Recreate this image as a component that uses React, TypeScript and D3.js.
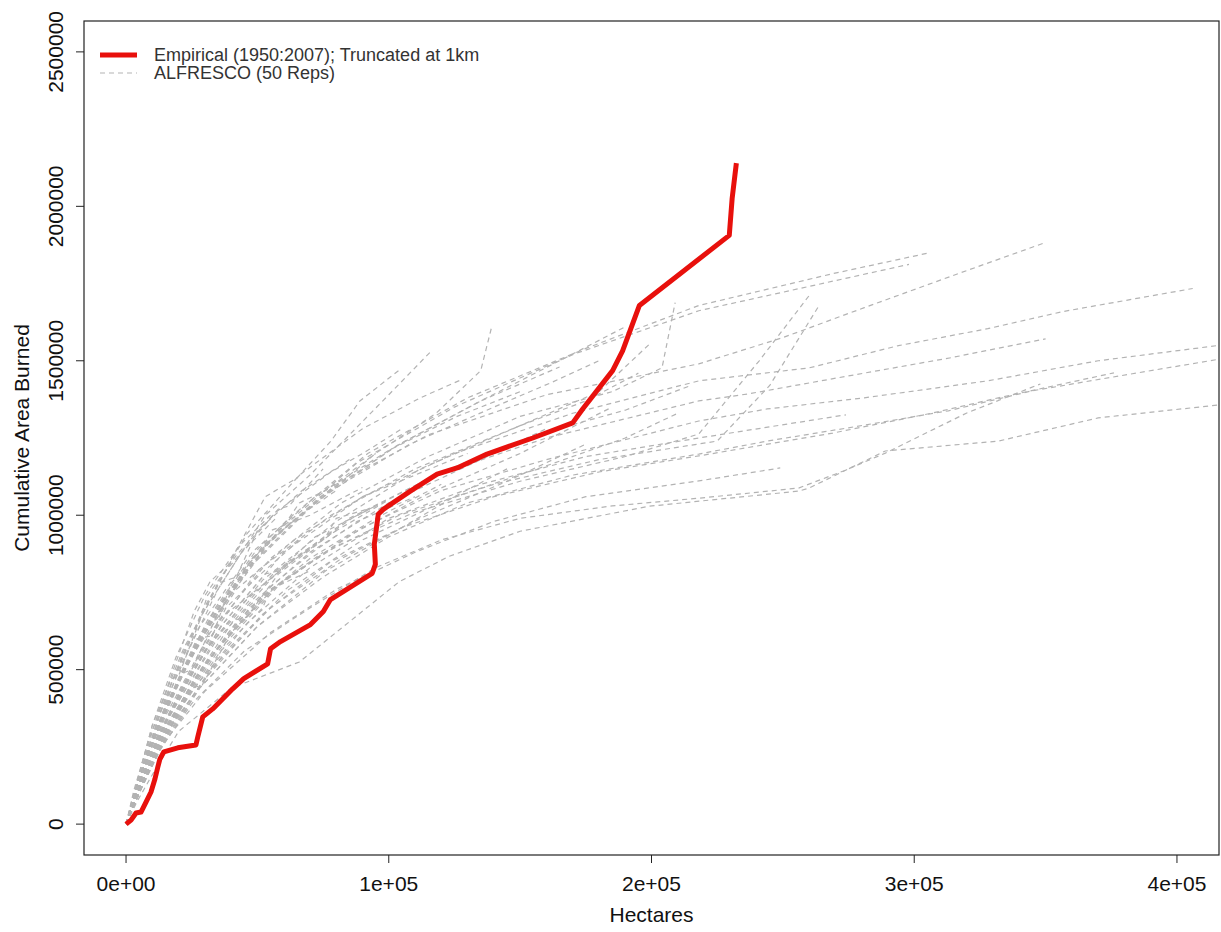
import React, { useEffect, useRef } from "react";
import * as d3 from "d3";

// all values in thousands: [hectares, cumulative area burned]
const empirical: [number, number][] = [
  [0, 0], [1.9, 13], [3.8, 36], [5.7, 39], [7.6, 71], [9.5, 104], [11, 146],
  [12.1, 185], [12.9, 211], [14.4, 234], [19.7, 247], [26.6, 256], [27.3, 282],
  [29.2, 347], [33, 373], [40.6, 438], [44.8, 471], [53.9, 519], [55, 568],
  [58.8, 591], [70.2, 646], [75.1, 688], [77.8, 727], [93.7, 812], [94.9, 841],
  [94.5, 906], [96, 1003], [97.9, 1019], [108.2, 1078], [118.4, 1133],
  [126, 1153], [137.4, 1198], [154.8, 1250], [170, 1299], [173.8, 1344],
  [185.2, 1468], [189, 1532], [195.4, 1679], [229.6, 1906], [230.7, 2026],
  [232.3, 2140],
];

// 50 ALFRESCO replicates
const alfresco: [number, number][][] = [
  [[0, 0], [4, 70], [10, 160], [20, 300], [40, 440], [66, 525], [85, 655], [104, 785], [123, 867], [150, 948], [199, 1029], [256, 1078], [260, 1088], [289, 1208], [332, 1240], [370, 1315], [430, 1370]],
  [[0, 0], [5, 110], [12, 230], [25, 390], [45, 560], [70, 700], [95, 830], [120, 920], [150, 990], [185, 1030], [218, 1055], [256, 1088], [273, 1143], [289, 1201], [320, 1331], [348, 1425]],
  [[0, 0], [6, 120], [14, 260], [30, 430], [55, 620], [80, 760], [110, 880], [140, 980], [175, 1060], [218, 1111], [249, 1153]],
  [[0, 0], [5, 100], [13, 250], [28, 440], [50, 640], [75, 800], [100, 930], [130, 1040], [170, 1130], [218, 1198], [244, 1240], [275, 1283], [313, 1338], [345, 1403], [383, 1458], [430, 1525]],
  [[0, 0], [7, 150], [15, 290], [30, 470], [52, 680], [78, 850], [105, 960], [140, 1060], [180, 1140], [218, 1192], [269, 1266], [307, 1331], [332, 1380], [376, 1461]],
  [[0, 0], [4, 90], [11, 230], [24, 420], [46, 650], [70, 830], [100, 990], [135, 1100], [175, 1190], [218, 1250], [274, 1325]],
  [[0, 0], [6, 140], [16, 330], [32, 540], [55, 760], [80, 900], [110, 1010], [150, 1110], [190, 1190], [218, 1263], [241, 1500], [260, 1711]],
  [[0, 0], [5, 120], [14, 300], [30, 520], [52, 740], [76, 880], [104, 1000], [140, 1100], [180, 1180], [225, 1240], [245, 1420], [264, 1682]],
  [[0, 0], [6, 130], [16, 320], [35, 560], [60, 790], [90, 960], [120, 1080], [160, 1180], [218, 1305], [244, 1344], [281, 1380], [328, 1435], [370, 1500], [430, 1565]],
  [[0, 0], [5, 120], [15, 330], [34, 590], [58, 820], [85, 990], [118, 1130], [160, 1250], [218, 1370], [237, 1393], [271, 1445], [314, 1510], [350, 1571]],
  [[0, 0], [6, 150], [17, 370], [36, 640], [60, 880], [90, 1060], [125, 1200], [170, 1330], [218, 1435], [260, 1477], [294, 1549], [328, 1604], [357, 1660], [406, 1734]],
  [[0, 0], [5, 140], [14, 360], [30, 620], [52, 900], [80, 1100], [115, 1260], [160, 1390], [218, 1490], [250, 1575], [281, 1672], [320, 1792], [349, 1880]],
  [[0, 0], [7, 170], [18, 430], [38, 740], [62, 990], [92, 1200], [130, 1380], [175, 1540], [218, 1679], [269, 1782], [306, 1850]],
  [[0, 0], [6, 160], [16, 400], [35, 700], [58, 950], [88, 1170], [125, 1350], [170, 1520], [218, 1662], [298, 1812]],
  [[0, 0], [4, 110], [10, 270], [20, 500], [35, 760], [53, 1000], [70, 1130], [85, 1260], [100, 1390], [116, 1530]],
  [[0, 0], [5, 140], [13, 330], [27, 590], [45, 820], [68, 1010], [95, 1200], [118, 1330], [135, 1468], [139, 1604]],
  [[0, 0], [6, 150], [15, 350], [32, 620], [55, 860], [82, 1040], [115, 1190], [150, 1320], [185, 1400], [204, 1477], [209, 1688]],
  [[0, 0], [5, 130], [14, 320], [30, 580], [50, 820], [78, 1000], [110, 1150], [150, 1290], [180, 1400], [200, 1560]],
  [[0, 0], [6, 130], [16, 320], [34, 560], [56, 760], [84, 930], [115, 1070], [150, 1200], [185, 1350]],
  [[0, 0], [4, 100], [12, 260], [26, 470], [46, 700], [70, 880], [100, 1040], [130, 1160], [160, 1280]],
  [[0, 0], [6, 120], [15, 280], [32, 500], [55, 700], [82, 860], [112, 990], [145, 1110], [175, 1230]],
  [[0, 0], [5, 150], [13, 360], [28, 640], [48, 880], [72, 1060], [100, 1210], [126, 1320], [150, 1400]],
  [[0, 0], [7, 140], [18, 330], [38, 560], [62, 760], [90, 920], [122, 1050], [160, 1160], [190, 1250], [210, 1330]],
  [[0, 0], [4, 120], [11, 300], [24, 530], [42, 760], [64, 920], [90, 1060], [110, 1130], [130, 1200]],
  [[0, 0], [5, 120], [14, 310], [30, 560], [52, 790], [80, 980], [112, 1150], [150, 1290], [175, 1370], [195, 1460]],
  [[0, 0], [5, 110], [13, 270], [27, 480], [47, 700], [70, 860], [95, 990], [120, 1100]],
  [[0, 0], [4, 130], [10, 320], [22, 570], [38, 820], [57, 1010], [78, 1140], [92, 1210], [105, 1280]],
  [[0, 0], [5, 140], [13, 340], [28, 610], [48, 860], [74, 1060], [104, 1230], [135, 1370], [165, 1480]],
  [[0, 0], [6, 140], [16, 340], [34, 600], [57, 820], [86, 990], [120, 1140], [160, 1270], [190, 1340], [215, 1420]],
  [[0, 0], [5, 100], [13, 240], [28, 440], [50, 640], [76, 820], [105, 960], [125, 1060], [145, 1150]],
  [[0, 0], [4, 120], [12, 310], [27, 580], [47, 830], [72, 1040], [102, 1220], [135, 1370], [165, 1500], [190, 1610]],
  [[0, 0], [6, 160], [15, 380], [31, 660], [52, 900], [78, 1080], [108, 1230], [140, 1350], [162, 1430], [180, 1500]],
  [[0, 0], [4, 120], [10, 300], [18, 500], [26, 690], [32, 785], [39, 840], [53, 1060], [65, 1120], [78, 1240], [89, 1370], [104, 1470]],
  [[0, 0], [3, 100], [9, 260], [12, 300], [17, 450], [28, 660], [31, 740], [42, 870], [58, 1020], [62, 1030], [75, 1150]],
  [[0, 0], [5, 130], [12, 300], [22, 490], [25, 500], [36, 700], [52, 880], [55, 950], [70, 1000], [90, 1090]],
  [[0, 0], [4, 110], [10, 270], [20, 470], [33, 680], [36, 690], [48, 860], [62, 970]],
  [[0, 0], [3, 90], [8, 220], [16, 400], [27, 600], [33, 610], [40, 780], [55, 920], [68, 1010], [80, 1080]],
  [[0, 0], [4, 100], [11, 250], [21, 440], [34, 630], [38, 700], [50, 800], [66, 920]],
  [[0, 0], [5, 120], [12, 280], [23, 460], [37, 650], [53, 810], [58, 820], [72, 930], [95, 1030]],
  [[0, 0], [3, 110], [9, 280], [17, 470], [20, 480], [29, 680], [44, 880], [57, 990]],
  [[0, 0], [4, 100], [10, 240], [20, 420], [32, 590], [35, 660], [47, 740], [63, 850], [80, 950]],
  [[0, 0], [5, 140], [12, 340], [22, 560], [35, 780], [42, 800], [50, 950], [67, 1080], [85, 1180]],
  [[0, 0], [4, 90], [11, 220], [22, 390], [36, 560], [52, 700], [55, 760], [70, 820]],
  [[0, 0], [3, 80], [9, 210], [18, 380], [30, 560], [45, 720], [60, 830], [76, 930], [80, 990], [92, 1020]],
  [[0, 0], [5, 110], [13, 260], [25, 440], [29, 450], [40, 620], [57, 770], [75, 880]],
  [[0, 0], [4, 130], [10, 320], [19, 540], [30, 740], [43, 900], [55, 1000]],
  [[0, 0], [6, 130], [14, 290], [26, 470], [41, 660], [46, 670], [58, 810], [78, 940], [100, 1050]],
  [[0, 0], [4, 110], [11, 280], [21, 480], [34, 700], [49, 880], [62, 990], [66, 1040], [76, 1080], [95, 1200]],
  [[0, 0], [5, 100], [12, 250], [24, 430], [39, 620], [55, 770], [71, 880], [88, 980], [110, 1060]],
  [[0, 0], [6, 170], [15, 410], [29, 690], [46, 940], [66, 1130], [90, 1280], [112, 1380], [128, 1440]],
];

const xTicks = [0, 100, 200, 300, 400];
const xTickLabels = ["0e+00", "1e+05", "2e+05", "3e+05", "4e+05"];
const yTicks = [0, 500, 1000, 1500, 2000, 2500];
const yTickLabels = ["0", "500000", "1000000", "1500000", "2000000", "2500000"];
const legendLabels = ["Empirical (1950:2007); Truncated at 1km", "ALFRESCO (50 Reps)"];

const FONT = "'Liberation Sans', Arial, sans-serif";

function App() {
  const chartRef = useRef<SVGSVGElement>(null);

  useEffect(() => {
    if (!chartRef.current) return;
    const svg = d3.select(chartRef.current);
    svg.selectAll("*").remove();

    const width = 1221;
    const height = 932;
    const plot = { left: 84, right: 1219, top: 21, bottom: 855 };

    const x = d3.scaleLinear().domain([-16, 416]).range([plot.left, plot.right]);
    const y = d3.scaleLinear().domain([-100, 2600]).range([plot.bottom, plot.top]);

    svg.attr("width", width).attr("height", height);

    svg.append("defs")
      .append("clipPath")
      .attr("id", "plot-clip")
      .append("rect")
      .attr("x", plot.left)
      .attr("y", plot.top)
      .attr("width", plot.right - plot.left)
      .attr("height", plot.bottom - plot.top);

    const line = d3.line<[number, number]>()
      .x(d => x(d[0]))
      .y(d => y(d[1]));

    const lines = svg.append("g").attr("clip-path", "url(#plot-clip)");

    // replicate runs
    lines.selectAll(".rep")
      .data(alfresco)
      .enter()
      .append("path")
      .attr("class", "rep")
      .attr("d", d => line(d))
      .attr("fill", "none")
      .attr("stroke", "#b3b3b3")
      .attr("stroke-width", 1.2)
      .attr("stroke-dasharray", "5,4");

    // empirical curve on top
    lines.append("path")
      .attr("d", line(empirical))
      .attr("fill", "none")
      .attr("stroke", "#e8100c")
      .attr("stroke-width", 5)
      .attr("stroke-linejoin", "round");

    // box
    svg.append("rect")
      .attr("x", plot.left)
      .attr("y", plot.top)
      .attr("width", plot.right - plot.left)
      .attr("height", plot.bottom - plot.top)
      .attr("fill", "none")
      .attr("stroke", "#222")
      .attr("stroke-width", 1.2);

    // x axis
    const xAxis = svg.append("g");
    xTicks.forEach((t, i) => {
      xAxis.append("line")
        .attr("x1", x(t)).attr("x2", x(t))
        .attr("y1", plot.bottom).attr("y2", plot.bottom + 8)
        .attr("stroke", "#222");
      xAxis.append("text")
        .attr("x", x(t))
        .attr("y", plot.bottom + 36)
        .attr("text-anchor", "middle")
        .style("font-family", FONT)
        .style("font-size", "21px")
        .attr("fill", "#111")
        .text(xTickLabels[i]);
    });

    // y axis
    const yAxis = svg.append("g");
    yTicks.forEach((t, i) => {
      yAxis.append("line")
        .attr("x1", plot.left - 8).attr("x2", plot.left)
        .attr("y1", y(t)).attr("y2", y(t))
        .attr("stroke", "#222");
      yAxis.append("text")
        .attr("transform", `translate(63,${y(t)}) rotate(-90)`)
        .attr("text-anchor", "middle")
        .style("font-family", FONT)
        .style("font-size", "21px")
        .attr("fill", "#111")
        .text(yTickLabels[i]);
    });

    // axis titles
    svg.append("text")
      .attr("x", (plot.left + plot.right) / 2)
      .attr("y", 922)
      .attr("text-anchor", "middle")
      .style("font-family", FONT)
      .style("font-size", "21px")
      .attr("fill", "#111")
      .text("Hectares");

    svg.append("text")
      .attr("transform", `translate(29,${(plot.top + plot.bottom) / 2}) rotate(-90)`)
      .attr("text-anchor", "middle")
      .style("font-family", FONT)
      .style("font-size", "21px")
      .attr("fill", "#111")
      .text("Cumulative Area Burned");

    // legend
    const legend = svg.append("g");
    legend.append("line")
      .attr("x1", 100).attr("x2", 137)
      .attr("y1", 55).attr("y2", 55)
      .attr("stroke", "#e8100c")
      .attr("stroke-width", 5);
    legend.append("line")
      .attr("x1", 100).attr("x2", 137)
      .attr("y1", 73).attr("y2", 73)
      .attr("stroke", "#b3b3b3")
      .attr("stroke-width", 1.2)
      .attr("stroke-dasharray", "5,4");
    legendLabels.forEach((label, i) => {
      legend.append("text")
        .attr("x", 154)
        .attr("y", 55 + i * 18 + 6)
        .style("font-family", FONT)
        .style("font-size", "18px")
        .attr("fill", "#333")
        .text(label);
    });
  }, []);

  return (
    <svg
      ref={chartRef}
      style={{ position: "absolute", left: 0, top: 0, background: "#fff" }}
    />
  );
}

export default App;
